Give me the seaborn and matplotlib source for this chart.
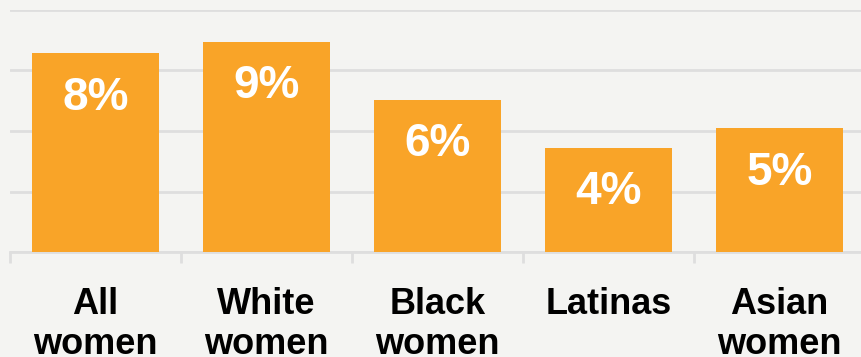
import matplotlib
matplotlib.use("Agg")
import matplotlib.pyplot as plt
import numpy as np
import pandas as pd
import seaborn as sns

categories = ["All\nwomen", "White\nwomen", "Black\nwomen", "Latinas", "Asian\nwomen"]
values = [8.22, 8.68, 6.28, 4.30, 5.12]
labels = ["8%", "9%", "6%", "4%", "5%"]

bg = "#f4f4f2"
bar_color = "#f9a428"
grid_color = "#dedede"

sns.set_style("white")
plt.rcParams['font.family'] = ['Liberation Sans', 'DejaVu Sans']

df = pd.DataFrame({"group": categories, "share": values})

fig = plt.figure(figsize=(8.62, 3.57), dpi=100, facecolor=bg)
# axes spans x=10..865 px, y=10..252 px
ax = fig.add_axes([10 / 862, 1 - 252 / 357, 855 / 862, 242 / 357])
ax.set_facecolor(bg)

sns.barplot(data=df, x="group", y="share", color=bar_color, width=0.74,
            saturation=1, linewidth=0, ax=ax, zorder=3)

ax.set_ylim(0, 10)
ax.set_xlim(-0.5, len(categories) - 0.5)
ax.set_yticks([0, 2.5, 5, 7.5, 10])
ax.yaxis.grid(True, color=grid_color, linewidth=2, zorder=0)
ax.set_axisbelow(True)
ax.tick_params(axis="y", left=False, labelleft=False)
for s in ["top", "right", "left"]:
    ax.spines[s].set_visible(False)
ax.spines["bottom"].set_color(grid_color)
ax.spines["bottom"].set_linewidth(2)

ax.set_xlabel("")
ax.set_ylabel("")
ax.set_xticks(np.arange(-0.5, len(categories)), minor=True)
ax.tick_params(axis="x", which="minor", bottom=True, length=8, width=2,
               color=grid_color)
ax.tick_params(axis="x", which="major", bottom=False, length=0, pad=25)
for t in ax.get_xticklabels():
    t.set_fontsize(26)
    t.set_fontweight("bold")
    t.set_linespacing(1.2)
    t.set_color("black")
    t.set_verticalalignment("top")

for i, (v, lab) in enumerate(zip(values, labels)):
    ax.annotate(lab, (i, v), xytext=(0, -32), textcoords="offset points",
                ha="center", va="center", color="white", fontsize=33,
                fontweight="bold", zorder=4)

fig.savefig("out.png", dpi=100, facecolor=bg)
